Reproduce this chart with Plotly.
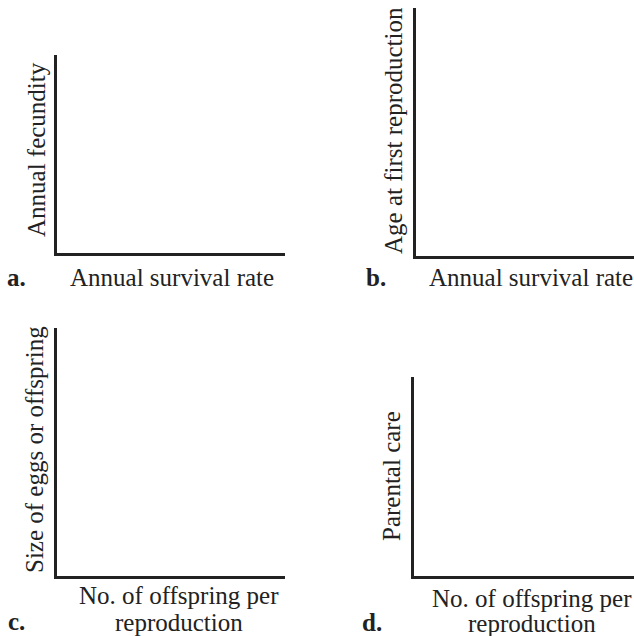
import plotly.graph_objects as go

W, H = 634, 636

# Panel content (text only: the reference shows empty axes)
panel_letters = ["a.", "b.", "c.", "d."]
x_titles_line1 = ["Annual survival rate", "Annual survival rate",
                  "No. of offspring per", "No. of offspring per"]
x_titles_line2 = ["", "", "reproduction", "reproduction"]
y_titles = ["Annual fecundity", "Age at first reproduction",
            "Size of eggs or offspring", "Parental care"]

# Layout in pixels: (left, right, top, bottom) of each plot area
boxes = [(57, 285, 55, 253), (416, 640, 8, 256), (57, 285, 328, 576), (414, 640, 377, 576)]
# x-title line centres, y-title centre, letter centre (pixels)
xt1_pos = [(172, 277), (531, 277), (179, 595), (532, 598)]
xt2_pos = [None, None, (179, 622), (532, 623)]
yt_pos = [(36, 150), (393, 131), (35, 450), (392, 476)]
letter_pos = [(16, 277), (376, 277), (16, 621), (372, 622)]

FONT = "Liberation Serif"
FS = 25
INK = "#222222"

def px(x):
    return x / W

def py(y):
    return 1 - y / H

def ann(text, pos, angle=0):
    return dict(text=text, x=px(pos[0]), y=py(pos[1]), xref="paper", yref="paper",
                showarrow=False, xanchor="center", yanchor="middle", textangle=angle,
                font=dict(family=FONT, size=FS, color=INK))

fig = go.Figure()
annotations = []
for i in range(4):
    l, r, t, b = boxes[i]
    xa = "xaxis" if i == 0 else f"xaxis{i+1}"
    ya = "yaxis" if i == 0 else f"yaxis{i+1}"
    xs = "x" if i == 0 else f"x{i+1}"
    ys = "y" if i == 0 else f"y{i+1}"
    fig.add_trace(go.Scatter(x=[], y=[], xaxis=xs, yaxis=ys, showlegend=False))
    common = dict(showline=True, linecolor=INK, linewidth=2.5, showgrid=False,
                  zeroline=False, showticklabels=False, ticks="", range=[0, 1],
                  fixedrange=True)
    fig.update_layout(**{
        xa: dict(domain=[px(l), min(px(r), 1)], anchor=ys, **common),
        ya: dict(domain=[py(b), py(t)], anchor=xs, **common),
    })
    annotations.append(ann(x_titles_line1[i], xt1_pos[i]))
    if x_titles_line2[i]:
        annotations.append(ann(x_titles_line2[i], xt2_pos[i]))
    annotations.append(ann(y_titles[i], yt_pos[i], -90))
    annotations.append(ann(f"<b>{panel_letters[i]}</b>", letter_pos[i]))

fig.update_layout(width=W, height=H, margin=dict(l=0, r=0, t=0, b=0),
                  paper_bgcolor="white", plot_bgcolor="white",
                  annotations=annotations)

fig.write_html("out.html", config={"displayModeBar": False},
               post_script="document.body.style.margin='0';document.body.style.overflow='hidden';")
